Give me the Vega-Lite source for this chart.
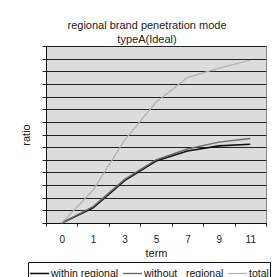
{
  "$schema": "https://vega.github.io/schema/vega-lite/v6.json",
  "width": 220,
  "height": 177,
  "autosize": {"type": "none"},
  "padding": {"left": 46, "top": 46, "right": 14, "bottom": 54},
  "background": "white",
  "config": {
    "font": "Liberation Sans",
    "view": {"fill": "#dcdcdc", "stroke": "#8a8a8a", "strokeWidth": 1}
  },
  "title": {
    "text": ["regional brand penetration mode", "typeA(Ideal)"],
    "fontSize": 11,
    "fontWeight": "normal",
    "color": "#222222",
    "lineHeight": 14,
    "offset": 1,
    "dx": -9
  },
  "data": {
    "values": [
      {"term": 0, "series": "within regional", "ratio": 0},
      {"term": 1, "series": "within regional", "ratio": 0.12},
      {"term": 3, "series": "within regional", "ratio": 0.335},
      {"term": 5, "series": "within regional", "ratio": 0.49},
      {"term": 7, "series": "within regional", "ratio": 0.57},
      {"term": 9, "series": "within regional", "ratio": 0.61},
      {"term": 11, "series": "within regional", "ratio": 0.623},
      {"term": 0, "series": "without\u00a0\u00a0\u00a0regional", "ratio": 0},
      {"term": 1, "series": "without\u00a0\u00a0\u00a0regional", "ratio": 0.13},
      {"term": 3, "series": "without\u00a0\u00a0\u00a0regional", "ratio": 0.345},
      {"term": 5, "series": "without\u00a0\u00a0\u00a0regional", "ratio": 0.5},
      {"term": 7, "series": "without\u00a0\u00a0\u00a0regional", "ratio": 0.585},
      {"term": 9, "series": "without\u00a0\u00a0\u00a0regional", "ratio": 0.64},
      {"term": 11, "series": "without\u00a0\u00a0\u00a0regional", "ratio": 0.668},
      {"term": 0, "series": "total", "ratio": 0},
      {"term": 1, "series": "total", "ratio": 0.26},
      {"term": 3, "series": "total", "ratio": 0.655},
      {"term": 5, "series": "total", "ratio": 0.955},
      {"term": 7, "series": "total", "ratio": 1.15},
      {"term": 9, "series": "total", "ratio": 1.225},
      {"term": 11, "series": "total", "ratio": 1.287}
    ]
  },
  "mark": {"type": "line"},
  "encoding": {
    "x": {
      "field": "term",
      "type": "ordinal",
      "bandPosition": 0.5,
      "scale": {"type": "band", "paddingInner": 0, "paddingOuter": 0},
      "axis": {
        "title": "term",
        "labelAngle": 0,
        "tickBand": "extent",
        "tickSize": 3,
        "tickColor": "#222222",
        "domainColor": "#111111",
        "labelPadding": 8,
        "labelFontSize": 10,
        "labelColor": "#222222",
        "titleFontSize": 11,
        "titleFontWeight": "normal",
        "titleColor": "#222222",
        "titlePadding": 3,
        "grid": false
      }
    },
    "y": {
      "field": "ratio",
      "type": "quantitative",
      "scale": {"domain": [0, 1.4], "nice": false},
      "axis": {
        "title": "ratio",
        "labels": false,
        "values": [0, 0.1, 0.2, 0.3, 0.4, 0.5, 0.6, 0.7, 0.8, 0.9, 1.0, 1.1, 1.2, 1.3, 1.4],
        "tickSize": 4,
        "tickColor": "#222222",
        "domainColor": "#111111",
        "grid": true,
        "gridColor": "#222222",
        "gridOpacity": 1,
        "titleFontSize": 11,
        "titleFontWeight": "normal",
        "titleColor": "#222222",
        "titlePadding": 10
      }
    },
    "color": {
      "field": "series",
      "type": "nominal",
      "scale": {
        "domain": ["within regional", "without\u00a0\u00a0\u00a0regional", "total"],
        "range": ["#111111", "#6a6a6a", "#b0b0b0"]
      },
      "legend": {
        "orient": "none",
        "legendX": -18,
        "legendY": 216,
        "direction": "horizontal",
        "title": null,
        "symbolType": "stroke",
        "symbolSize": 361,
        "symbolStrokeWidth": 1.3,
        "labelFontSize": 10.5,
        "labelColor": "#111111",
        "labelOffset": 1,
        "columnPadding": 1,
        "padding": 1,
        "strokeColor": "#111111",
        "fillColor": "white"
      }
    },
    "strokeWidth": {
      "field": "series",
      "type": "nominal",
      "scale": {
        "domain": ["within regional", "without\u00a0\u00a0\u00a0regional", "total"],
        "range": [1.6, 1.2, 1]
      },
      "legend": null
    }
  }
}
